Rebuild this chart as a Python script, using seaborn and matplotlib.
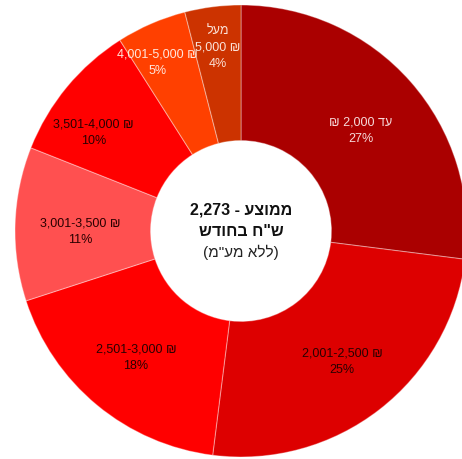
import numpy as np
import matplotlib
matplotlib.use("Agg")
import matplotlib.pyplot as plt
import seaborn as sns

# Monthly salary brackets (NIS, excluding VAT) and share of respondents
brackets = ["עד 2,000 ₪", "2,001-2,500 ₪", "2,501-3,000 ₪", "3,001-3,500 ₪",
            "3,501-4,000 ₪", "4,001-5,000 ₪", "מעל\n5,000 ₪"]
shares = [27, 25, 18, 11, 10, 5, 4]
center_lines = ["ממוצע - 2,273", 'ש"ח בחודש', '(ללא מע"מ)']

slice_colors = ["#AA0000", "#DD0000", "#FF0000", "#FF5050", "#FF0000", "#FF4000", "#CC3300"]
text_colors = ["#F6DADA", "#2A0000", "#2A0000", "#2A0000", "#2A0000", "#FFE6DC", "#FBE2D8"]
# label placement: distance from the centre (in radii) and angular nudge (deg)
label_radius = [0.69, 0.73, 0.73, 0.71, 0.785, 0.83, 0.82]
label_nudge = [-1.5, 0, 0, 2, 6, 3, 0]

MIRROR = {"(": ")", ")": "("}


def is_hebrew(s):
    return any("\u0590" <= ch <= "\u05FF" for ch in s)


def visual(text):
    """Lay out a right-to-left line in visual (left-to-right) glyph order."""
    out_lines = []
    for line in text.split("\n"):
        if not is_hebrew(line):
            out_lines.append(line)
            continue
        vis = []
        for w in reversed(line.split(" ")):
            if is_hebrew(w):
                w = "".join(MIRROR.get(c, c) for c in reversed(w))
            vis.append(w)
        out_lines.append(" ".join(vis))
    return "\n".join(out_lines)


sns.set_theme(style="white")
plt.rcParams["font.family"] = ["Liberation Sans", "DejaVu Sans"]

palette = sns.color_palette(slice_colors)

fig = plt.figure(figsize=(4.62, 4.59), dpi=100)
ax = fig.add_axes([0, 0, 1, 1])
R = 226.0

wedges, _ = ax.pie(shares, colors=palette, startangle=90, counterclock=False,
                   radius=1.0, center=(0, 0), frame=False,
                   wedgeprops=dict(width=0.6, edgecolor=(1, 1, 1, 0.35), linewidth=0.8))
ax.set_xlim(-241 / R, (462 - 241) / R)
ax.set_ylim(-(459 - 231) / R, 231 / R)
ax.set_aspect("equal")
ax.axis("off")

for w, name, val, tc, rr, dn in zip(wedges, brackets, shares, text_colors,
                                    label_radius, label_nudge):
    mid = np.deg2rad((w.theta1 + w.theta2) / 2 + dn)
    x, y = rr * np.cos(mid), rr * np.sin(mid)
    ax.text(x, y, f"{visual(name)}\n{val}%", ha="center", va="center",
            fontsize=9, color=tc, linespacing=1.5)

ax.text(0, 0.092, visual(center_lines[0]), ha="center", va="center",
        fontsize=11.5, fontweight="bold", color="#111111")
ax.text(0, -0.003, visual(center_lines[1]), ha="center", va="center",
        fontsize=11.5, fontweight="bold", color="#111111")
ax.text(0, -0.093, visual(center_lines[2]), ha="center", va="center",
        fontsize=11, color="#222222")

fig.savefig("out.png", dpi=100, facecolor="white")
